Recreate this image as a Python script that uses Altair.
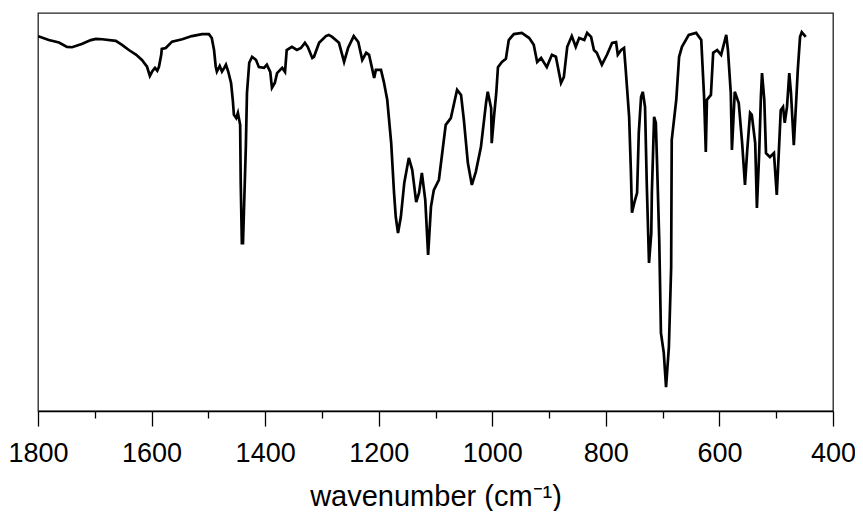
import altair as alt
import pandas as pd

# IR spectrum (wavenumber in cm-1, transmittance in %)
wavenumber = [
    1800, 1798, 1781, 1763, 1749, 1740, 1723, 1707, 1698, 1687, 1663, 1652, 1640, 1627,
    1617, 1608, 1603, 1599, 1594, 1590, 1587, 1583, 1582, 1575, 1564, 1546, 1529, 1511,
    1499, 1494, 1490, 1487, 1485, 1480, 1476, 1472, 1469, 1465, 1460, 1457, 1455, 1451,
    1448, 1444, 1443, 1441, 1439, 1434, 1432, 1428, 1423, 1416, 1411, 1402, 1397, 1391,
    1388, 1383, 1379, 1370, 1365, 1362, 1353, 1344, 1337, 1330, 1325, 1317, 1314, 1305,
    1293, 1288, 1282, 1270, 1261, 1254, 1244, 1236, 1229, 1222, 1217, 1208, 1205, 1196,
    1191, 1185, 1178, 1173, 1170, 1166, 1161, 1155, 1147, 1141, 1134, 1129, 1124, 1118,
    1113, 1108, 1103, 1094, 1082, 1073, 1062, 1055, 1050, 1043, 1036, 1029, 1020, 1011,
    1008, 1002, 1001, 997, 993, 990, 983, 976, 971, 962, 948, 935, 927, 921, 914, 904,
    895, 888, 879, 874, 868, 860, 853, 847, 838, 833, 826, 821, 816, 807, 798, 789, 782,
    779, 773, 768, 765, 759, 756, 754, 750, 745, 742, 738, 735, 731, 728, 724, 720, 719,
    715, 712, 710, 706, 703, 698, 694, 689, 685, 684, 676, 671, 666, 654, 641, 632, 627,
    624, 622, 615, 611, 604, 597, 588, 585, 580, 578, 573, 566, 560, 555, 551, 546, 543,
    537, 534, 530, 527, 525, 521, 518, 511, 504, 499, 495, 492, 488, 485, 481, 477, 474,
    469, 465, 462, 458, 455, 448,
]
transmittance = [
    94.1, 94.1, 93.2, 92.6, 91.5, 91.4, 92.2, 93.2, 93.5, 93.4, 93.0, 92.0, 90.7, 89.5,
    88.2, 86.5, 84.2, 85.3, 86.2, 85.5, 86.5, 89.5, 91.0, 91.2, 92.8, 93.4, 94.2, 94.7,
    94.7, 93.7, 90.7, 86.5, 85.3, 86.7, 85.3, 86.2, 87.0, 85.3, 82.4, 78.2, 74.4, 73.6,
    74.9, 71.9, 57.3, 42.2, 42.2, 66.3, 79.9, 87.5, 89.0, 88.2, 86.4, 86.2, 87.0, 85.2,
    81.2, 82.4, 84.9, 86.2, 85.2, 90.7, 91.5, 90.7, 91.2, 92.5, 91.5, 88.7, 89.0, 92.5,
    94.2, 94.5, 94.0, 92.5, 87.7, 91.2, 94.2, 92.7, 88.2, 90.0, 89.5, 83.7, 85.7, 85.7,
    82.7, 78.2, 67.3, 54.8, 48.8, 44.7, 48.8, 57.3, 63.6, 60.6, 52.5, 54.8, 59.8, 53.0,
    39.2, 51.3, 55.5, 58.1, 71.9, 73.6, 80.7, 79.4, 73.1, 62.3, 56.8, 60.1, 66.3, 77.4,
    80.2, 76.1, 67.3, 73.9, 79.9, 86.4, 87.7, 88.5, 93.2, 94.7, 95.0, 93.7, 92.0, 87.7, 88.7, 86.4,
    89.5, 89.0, 82.4, 83.9, 91.5, 94.2, 91.5, 93.7, 93.2, 95.0, 94.0, 90.7, 90.0, 87.0, 89.5, 92.5, 92.7,
    89.5, 90.7, 91.2, 85.7, 73.9, 60.6, 49.8, 52.3, 54.8, 69.9, 78.9, 80.2, 76.4, 57.3, 37.2, 44.7, 54.8,
    73.9, 72.4, 63.1, 43.0, 19.6, 14.6, 6.0, 16.1, 36.2, 68.1, 78.2, 89.0, 91.5, 94.5, 95.0, 93.2, 78.9,
    65.1, 78.2, 79.4, 90.0, 90.7, 89.5, 94.5, 90.7, 79.9, 65.6, 80.2, 77.4, 67.3, 56.8, 65.6, 74.9, 74.4,
    67.3, 51.0, 64.8, 78.9, 84.9, 78.2, 64.8, 63.8, 64.8, 54.3, 66.3, 75.6, 76.4, 72.4, 76.4, 84.9, 79.9,
    66.8, 77.4, 85.7, 94.0, 95.2, 94.0,
]

tick_values = list(range(400, 1801, 100))

df = pd.DataFrame({"wn": wavenumber, "T": transmittance, "order": range(len(wavenumber))})

line = alt.Chart(df).mark_line(color="black", strokeWidth=2.7, strokeJoin="miter").encode(
    x=alt.X(
        "wn:Q",
        scale=alt.Scale(domain=[400, 1800], reverse=True, nice=False, zero=False),
        axis=alt.Axis(
            values=tick_values,
            labelExpr="datum.value % 200 == 0 ? datum.label : ''",
            format="d",
            title="wavenumber (cm⁻¹)",
            grid=False,
            domainColor="black",
            domainWidth=1.3,
            tickColor="black",
            tickWidth=1.3,
            tickSize={"condition": {"test": "datum.value % 200 == 0", "value": 15}, "value": 7},
            labelFont="Liberation Sans",
            labelFontSize=27,
            labelColor="black",
            labelPadding=14,
            labelFlush=False,
            labelOverlap=False,
            titleFont="Liberation Sans",
            titleFontSize=29,
            titleFontWeight="normal",
            titleColor="black",
            titleBaseline="alphabetic",
            titleY=94,
        ),
    ),
    y=alt.Y("T:Q", scale=alt.Scale(domain=[0, 100], nice=False, zero=False), axis=None),
    order="order:Q",
)

chart = line.properties(
    width=795,
    height=398,
    autosize=alt.AutoSizeParams(type="none"),
    padding={"left": 30, "top": 5, "right": 22, "bottom": 100},
).configure(background="white").configure_view(stroke="#222222", strokeWidth=1.3)

chart.save("out.html", embed_options={"renderer": "svg", "actions": False})
